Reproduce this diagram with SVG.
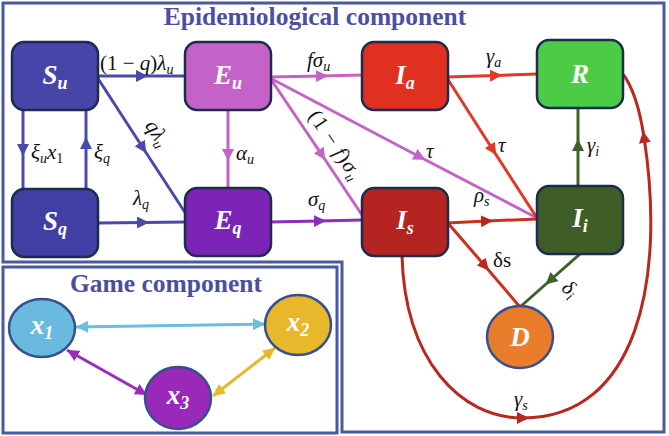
<svg xmlns="http://www.w3.org/2000/svg" width="669" height="436" viewBox="0 0 669 436">
<defs>
<style>
.frame{fill:none;stroke:#4a5a9c;stroke-width:3}
.title{font-family:"Liberation Serif",serif;font-weight:bold;font-size:25.5px;fill:#4b4fa2;text-anchor:middle}
.box{stroke:#1e2b4e;stroke-width:2.5}
.circ{stroke:#34508f;stroke-width:2.5}
.nl{font-family:"Liberation Serif",serif;font-weight:bold;font-style:italic;font-size:27px;fill:#fff;text-anchor:middle}
.nl .s{font-size:18px}
.lbl{font-family:"Liberation Serif",serif;font-style:italic;font-size:21px;fill:#111}
.lbl .s{font-size:14px}
.up{font-style:normal}
.e{fill:none;stroke-width:3}
</style>
<marker id="aBlue" viewBox="0 0 10 10" refX="5" refY="5" markerWidth="12" markerHeight="12" markerUnits="userSpaceOnUse" orient="auto"><path d="M0,0L10,5L0,10z" fill="#4a4aad"/></marker>
<marker id="aPink" viewBox="0 0 10 10" refX="5" refY="5" markerWidth="12" markerHeight="12" markerUnits="userSpaceOnUse" orient="auto"><path d="M0,0L10,5L0,10z" fill="#c462c8"/></marker>
<marker id="aPurple" viewBox="0 0 10 10" refX="5" refY="5" markerWidth="12" markerHeight="12" markerUnits="userSpaceOnUse" orient="auto"><path d="M0,0L10,5L0,10z" fill="#8b2dbd"/></marker>
<marker id="aRed" viewBox="0 0 10 10" refX="5" refY="5" markerWidth="12" markerHeight="12" markerUnits="userSpaceOnUse" orient="auto"><path d="M0,0L10,5L0,10z" fill="#de3a27"/></marker>
<marker id="aDRed" viewBox="0 0 10 10" refX="5" refY="5" markerWidth="12" markerHeight="12" markerUnits="userSpaceOnUse" orient="auto"><path d="M0,0L10,5L0,10z" fill="#b8281f"/></marker>
<marker id="aGreen" viewBox="0 0 10 10" refX="5" refY="5" markerWidth="12" markerHeight="12" markerUnits="userSpaceOnUse" orient="auto"><path d="M0,0L10,5L0,10z" fill="#3d6127"/></marker>
<marker id="tLB" viewBox="0 0 10 10" refX="10" refY="5" markerWidth="12" markerHeight="12" markerUnits="userSpaceOnUse" orient="auto-start-reverse"><path d="M0,0L10,5L0,10z" fill="#6cbde0"/></marker>
<marker id="tGP" viewBox="0 0 10 10" refX="10" refY="5" markerWidth="12" markerHeight="12" markerUnits="userSpaceOnUse" orient="auto-start-reverse"><path d="M0,0L10,5L0,10z" fill="#9b2bbb"/></marker>
<marker id="tGold" viewBox="0 0 10 10" refX="10" refY="5" markerWidth="12" markerHeight="12" markerUnits="userSpaceOnUse" orient="auto-start-reverse"><path d="M0,0L10,5L0,10z" fill="#e6b92a"/></marker>
</defs>
<rect width="669" height="436" fill="#fff"/>
<g id="frames">
<path class="frame" d="M3,3H664V432H342V262H3Z"/>
<rect class="frame" x="3" y="267" width="334" height="166"/>
<text class="title" x="315" y="25">Epidemiological component</text>
<text class="title" x="166" y="292">Game component</text>
</g>
<g id="connectors">
<polyline class="e" stroke="#4a4aad" marker-mid="url(#aBlue)" points="98,76 142,76 185,76"/>
<polyline class="e" stroke="#4a4aad" marker-mid="url(#aBlue)" points="97,77 143,148 188,217"/>
<polyline class="e" stroke="#4a4aad" marker-mid="url(#aBlue)" points="23,110 23,150 23,190"/>
<polyline class="e" stroke="#4a4aad" marker-mid="url(#aBlue)" points="86,190 86,143 86,110"/>
<polyline class="e" stroke="#4a4aad" marker-mid="url(#aBlue)" points="98,223 143,222.5 186,222"/>
<polyline class="e" stroke="#c462c8" marker-mid="url(#aPink)" points="228,110 228,155 228,188"/>
<polyline class="e" stroke="#c462c8" marker-mid="url(#aPink)" points="270,77 322,76 363,75"/>
<polyline class="e" stroke="#c462c8" marker-mid="url(#aPink)" points="270,78 322,155 362,215"/>
<polyline class="e" stroke="#c462c8" marker-mid="url(#aPink)" points="270,78 420,157 537,218"/>
<polyline class="e" stroke="#8b2dbd" marker-mid="url(#aPurple)" points="270,222 320,221 362,220"/>
<polyline class="e" stroke="#de3a27" marker-mid="url(#aRed)" points="447,77 496,75.5 537,74"/>
<polyline class="e" stroke="#de3a27" marker-mid="url(#aRed)" points="447,78 493,150 537,218"/>
<polyline class="e" stroke="#c8301f" marker-mid="url(#aDRed)" points="447,223 487,221 537,219"/>
<polyline class="e" stroke="#3d6127" marker-mid="url(#aGreen)" points="578,186 578,145 578,108"/>
<polyline class="e" stroke="#c8301f" marker-mid="url(#aDRed)" points="447,222 485,266 520,307"/>
<polyline class="e" stroke="#3d6127" marker-mid="url(#aGreen)" points="580,254 550,280.5 520,307"/>
<path class="e" stroke="#b8281f" marker-mid="url(#aDRed)" d="M402,256C405,360 460,418 523,418C637,418 666,280 644,137C639,105 632,85 622,73"/>
<line class="e" stroke="#6cbde0" marker-start="url(#tLB)" marker-end="url(#tLB)" x1="76" y1="327" x2="265" y2="324"/>
<line class="e" stroke="#9b2bbb" marker-start="url(#tGP)" marker-end="url(#tGP)" x1="67" y1="350" x2="147" y2="395"/>
<line class="e" stroke="#e6b92a" marker-start="url(#tGold)" marker-end="url(#tGold)" x1="213" y1="396" x2="275" y2="348"/>
</g>
<g id="edge-labels">
<text class="lbl" x="100" y="70"><tspan class="up">(1 − </tspan>q<tspan class="up">)</tspan>λ<tspan class="s" dy="4">u</tspan></text>
<text class="lbl" transform="translate(156,134) rotate(57)" text-anchor="middle" y="5">qλ<tspan class="s" dy="4">u</tspan></text>
<text class="lbl" x="31" y="159">ξ<tspan class="s" dy="4">u</tspan><tspan dy="-4">x</tspan><tspan class="s up" dy="4">1</tspan></text>
<text class="lbl" x="94" y="159">ξ<tspan class="s" dy="4">q</tspan></text>
<text class="lbl" x="133" y="205">λ<tspan class="s" dy="4">q</tspan></text>
<text class="lbl" x="236" y="160">α<tspan class="s" dy="4">u</tspan></text>
<text class="lbl" x="307" y="67">fσ<tspan class="s" dy="4">u</tspan></text>
<text class="lbl" transform="translate(334,146) rotate(56)" text-anchor="middle" y="5" letter-spacing="1"><tspan class="up">(1 − </tspan>f<tspan class="up">)</tspan>σ<tspan class="s" dy="4">u</tspan></text>
<text class="lbl" x="426" y="158">τ</text>
<text class="lbl" x="308" y="206">σ<tspan class="s" dy="4">q</tspan></text>
<text class="lbl" x="486" y="63">γ<tspan class="s" dy="4">a</tspan></text>
<text class="lbl" x="498" y="152">τ</text>
<text class="lbl" x="587" y="152">γ<tspan class="s" dy="4">i</tspan></text>
<text class="lbl" x="474" y="202">ρ<tspan class="s" dy="4">s</tspan></text>
<text class="lbl up" x="493" y="267">δs</text>
<text class="lbl" transform="translate(569,290) rotate(40)" text-anchor="middle" y="5">δ<tspan class="s" dy="4">i</tspan></text>
<text class="lbl" x="514" y="406">γ<tspan class="s" dy="4">s</tspan></text>
</g>
<g id="Su"><rect class="box" x="12" y="42" width="86" height="68" rx="12" fill="#4646a9"/><text class="nl" x="55" y="84">S<tspan class="s" dy="5">u</tspan></text></g>
<g id="Eu"><rect class="box" x="185" y="42" width="86" height="68" rx="12" fill="#c562c8"/><text class="nl" x="228" y="84">E<tspan class="s" dy="5">u</tspan></text></g>
<g id="Ia"><rect class="box" x="362" y="42" width="86" height="68" rx="12" fill="#e0301f"/><text class="nl" x="405" y="84">I<tspan class="s" dy="5">a</tspan></text></g>
<g id="R"><rect class="box" x="537" y="40" width="86" height="68" rx="12" fill="#4ccb45"/><text class="nl" x="580" y="83">R</text></g>
<g id="Sq"><rect class="box" x="12" y="189" width="86" height="68" rx="12" fill="#3f3fa4"/><text class="nl" x="55" y="230">S<tspan class="s" dy="5">q</tspan></text></g>
<g id="Eq"><rect class="box" x="185" y="188" width="86" height="68" rx="12" fill="#7b24b6"/><text class="nl" x="228" y="229">E<tspan class="s" dy="5">q</tspan></text></g>
<g id="Is"><rect class="box" x="362" y="188" width="86" height="68" rx="12" fill="#b42420"/><text class="nl" x="405" y="229">I<tspan class="s" dy="5">s</tspan></text></g>
<g id="Ii"><rect class="box" x="537" y="186" width="86" height="68" rx="12" fill="#3f5e27"/><text class="nl" x="580" y="227">I<tspan class="s" dy="5">i</tspan></text></g>
<g id="D"><ellipse class="circ" cx="520" cy="337" rx="33" ry="31" fill="#e97d2b"/><text class="nl" x="520" y="346">D</text></g>
<g id="x1"><ellipse class="circ" cx="42" cy="328" rx="33" ry="29" fill="#6ab9df"/><text class="nl" x="42" y="334">x<tspan class="s" dy="5">1</tspan></text></g>
<g id="x2"><ellipse class="circ" cx="298" cy="325" rx="33" ry="30" fill="#e8b82a"/><text class="nl" x="298" y="331">x<tspan class="s" dy="5">2</tspan></text></g>
<g id="x3"><ellipse class="circ" cx="178" cy="398" rx="33" ry="31" fill="#9a28b8"/><text class="nl" x="178" y="404">x<tspan class="s" dy="5">3</tspan></text></g>
</svg>
